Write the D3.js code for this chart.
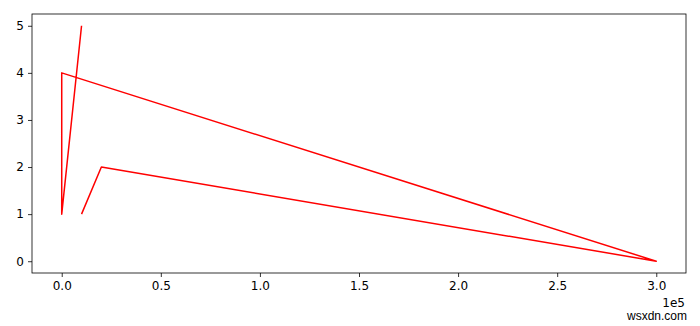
<!DOCTYPE html>
<html>
<head>
<meta charset="utf-8">
<script src="https://cdn.jsdelivr.net/npm/d3@7"></script>
<style>
  body { margin: 0; background: #fff; }
  svg text { font-family: "DejaVu Sans", sans-serif; }
</style>
</head>
<body>
<svg id="chart" width="700" height="326"></svg>
<script>
// points in drawing order
var xs = [10000, 20000, 300000, 0, 0, 10000];
var ys = [1, 2, 0, 4, 1, 5];
var xTicks = [0, 50000, 100000, 150000, 200000, 250000, 300000];
var yTicks = [0, 1, 2, 3, 4, 5];

var svg = d3.select('#chart');
var padL = 32, padR = 686, padT = 14, padB = 273;

// matplotlib style 5% padding
var xScale = d3.scaleLinear().domain([-15000, 315000]).range([padL, padR]);
var yScale = d3.scaleLinear().domain([-0.25, 5.25]).range([padB, padT]);

var xAxis = d3.axisBottom(xScale)
    .tickValues(xTicks)
    .tickSize(4)
    .tickPadding(4)
    .tickFormat(function (d) { return (d / 1e5).toFixed(1); });
var yAxis = d3.axisLeft(yScale)
    .tickValues(yTicks)
    .tickSize(4)
    .tickPadding(4)
    .tickFormat(d3.format('d'));

var gx = svg.append('g').attr('transform', 'translate(0,' + padB + ')').call(xAxis);
var gy = svg.append('g').attr('transform', 'translate(' + padL + ',0)').call(yAxis);
[gx, gy].forEach(function (g) {
    g.select('.domain').remove();
    g.selectAll('text').attr('font-size', 12).attr('fill', '#000')
        .style('font-family', '"DejaVu Sans", sans-serif');
    g.selectAll('line').attr('stroke', '#000').attr('stroke-width', 0.8);
});

var line = d3.line()
    .x(function (d, i) { return xScale(xs[i]); })
    .y(function (d, i) { return yScale(ys[i]); });

svg.append('path')
    .datum(xs)
    .attr('d', line)
    .attr('fill', 'none')
    .attr('stroke', '#ff0000')
    .attr('stroke-width', 1.5)
    .attr('stroke-linejoin', 'round');

// frame
svg.append('rect')
    .attr('x', padL).attr('y', padT)
    .attr('width', padR - padL).attr('height', padB - padT)
    .attr('fill', 'none').attr('stroke', '#000').attr('stroke-width', 0.8);

// offset text
svg.append('text')
    .attr('x', padR - 1).attr('y', 307)
    .attr('text-anchor', 'end')
    .attr('font-size', 12)
    .text('1e5');

// watermark
svg.append('text')
    .attr('x', 687).attr('y', 320)
    .attr('text-anchor', 'end')
    .attr('font-size', 12)
    .style('font-family', '"Liberation Sans", Arial, sans-serif')
    .text('wsxdn.com');
</script>
</body>
</html>
